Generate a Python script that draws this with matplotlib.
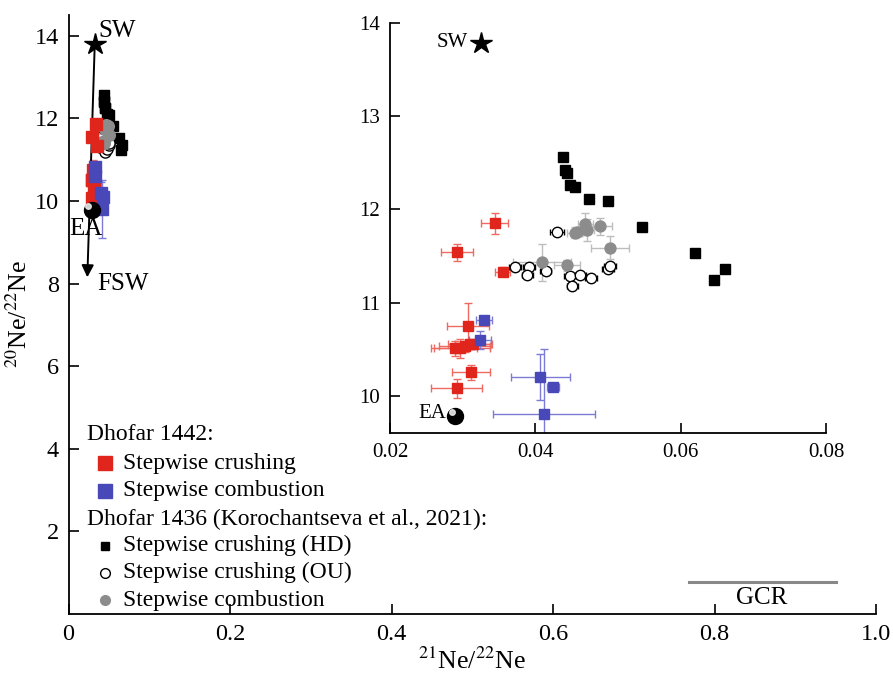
import matplotlib
matplotlib.use("Agg")
import matplotlib.pyplot as plt
import matplotlib.transforms as mtransforms

plt.rcParams['font.family'] = ['Liberation Serif', 'DejaVu Serif']
plt.rcParams['mathtext.fontset'] = 'stix'

# ---------------- data ----------------
# Dhofar 1442, stepwise crushing (red)
red_x = [0.0344, 0.0292, 0.0355, 0.0307, 0.0290, 0.0297, 0.0303, 0.0310, 0.0314, 0.0312, 0.0292]
red_y = [11.85, 11.54, 11.33, 10.75, 10.51, 10.51, 10.53, 10.55, 10.55, 10.25, 10.08]
red_xerr = [0.0019, 0.0022, 0.0010, 0.0029, 0.0030, 0.0040, 0.0035, 0.0030, 0.0025, 0.0026, 0.0035]
red_yerr = [0.11, 0.09, 0.05, 0.24, 0.08, 0.10, 0.06, 0.05, 0.05, 0.08, 0.10]

# Dhofar 1442, stepwise combustion (blue)
blue_x = [0.0329, 0.0324, 0.0407, 0.0424, 0.0412]
blue_y = [10.81, 10.60, 10.20, 10.09, 9.80]
blue_xerr = [0.0011, 0.0015, 0.0041, 0.0008, 0.0070]
blue_yerr = [0.04, 0.10, 0.25, 0.04, 0.70]

# Dhofar 1436, stepwise crushing (HD) (black squares)
hd_x = [0.0438, 0.0441, 0.0444, 0.0448, 0.0454, 0.0474, 0.0500, 0.0547, 0.0620, 0.0661, 0.0646]
hd_y = [12.56, 12.42, 12.39, 12.26, 12.24, 12.11, 12.09, 11.81, 11.53, 11.36, 11.24]

# Dhofar 1436, stepwise crushing (OU) (open circles)
ou_x = [0.0430, 0.0372, 0.0391, 0.0389, 0.0414, 0.0448, 0.0462, 0.0451, 0.0477, 0.0500, 0.0503]
ou_y = [11.76, 11.38, 11.38, 11.30, 11.34, 11.28, 11.30, 11.18, 11.26, 11.36, 11.39]
ou_xerr = [0.0010, 0.0008, 0.0008, 0.0008, 0.0008, 0.0008, 0.0008, 0.0008, 0.0008, 0.0008, 0.0008]
ou_yerr = [0.03, 0.03, 0.03, 0.03, 0.03, 0.03, 0.03, 0.04, 0.03, 0.03, 0.03]

# Dhofar 1436, stepwise combustion (grey circles)
grey_x = [0.0469, 0.0489, 0.0454, 0.0458, 0.0471, 0.0503, 0.0409, 0.0444]
grey_y = [11.84, 11.82, 11.75, 11.76, 11.78, 11.59, 11.43, 11.40]
grey_xerr = [0.0010, 0.0016, 0.0010, 0.0008, 0.0010, 0.0026, 0.0040, 0.0018]
grey_yerr = [0.12, 0.09, 0.06, 0.05, 0.12, 0.12, 0.20, 0.06]

# reference components
sw_x, sw_y = 0.0325, 13.79
ea_x, ea_y = 0.0290, 9.785
fsw_x, fsw_y = 0.0233, 8.15
gcr_x = [0.768, 0.950]
gcr_y = 0.77

main_xticks = [0, 0.2, 0.4, 0.6, 0.8, 1.0]
main_xticklabels = ["0", "0.2", "0.4", "0.6", "0.8", "1.0"]
main_yticks = [2, 4, 6, 8, 10, 12, 14]
ins_xticks = [0.02, 0.04, 0.06, 0.08]
ins_yticks = [10, 11, 12, 13, 14]

RED = "#e0251c"
RED_E = "#ee6a60"
BLUE = "#4848b8"
BLUE_E = "#7c7cd6"
GREY = "#8c8c8c"
GREY_E = "#bdbdbd"

W, H = 893, 675
fig = plt.figure(figsize=(W / 100, H / 100), dpi=100)

def frac(l, r, t, b):
    return [l / W, 1 - b / H, (r - l) / W, (b - t) / H]

ax = fig.add_axes(frac(68.5, 876, 15, 614))
ins = fig.add_axes(frac(390, 826, 23, 433))


def draw_data(a, ms):
    lw = 1.0
    a.errorbar(red_x, red_y, xerr=red_xerr, yerr=red_yerr, fmt='none', ecolor=RED_E,
               elinewidth=lw, capsize=3, zorder=2)
    a.errorbar(blue_x, blue_y, xerr=blue_xerr, yerr=blue_yerr, fmt='none', ecolor=BLUE_E,
               elinewidth=lw, capsize=3, zorder=2)
    a.errorbar(grey_x, grey_y, xerr=grey_xerr, yerr=grey_yerr, fmt='none', ecolor=GREY_E,
               elinewidth=lw, capsize=3, zorder=2)
    a.errorbar(ou_x, ou_y, xerr=ou_xerr, yerr=ou_yerr, fmt='none', ecolor='black',
               elinewidth=0.8, capsize=2, zorder=2)
    a.plot(hd_x, hd_y, 's', color='black', ms=ms * 0.9, zorder=4)
    a.plot(ou_x, ou_y, 'o', mfc='white', mec='black', mew=1.0, ms=ms, zorder=4)
    a.plot(grey_x, grey_y, 'o', color=GREY, ms=ms * 1.05, zorder=4)
    a.plot(red_x, red_y, 's', color=RED, ms=ms, zorder=5)
    a.plot(blue_x, blue_y, 's', color=BLUE, ms=ms, zorder=5)
    # EA ball with highlight
    a.plot([ea_x], [ea_y], 'o', color='black', ms=11.5, zorder=6)
    off = mtransforms.ScaledTranslation(-2.5 / 72, 2.5 / 72, fig.dpi_scale_trans)
    a.plot([ea_x], [ea_y], 'o', color='#e8e8e8', ms=4, zorder=7,
           transform=a.transData + off, alpha=0.9)
    # SW star
    a.plot([sw_x], [sw_y], '*', color='black', ms=16, zorder=6)


# ---------- main axes ----------
draw_data(ax, 8)
ax.annotate("", xy=(fsw_x, fsw_y), xytext=(sw_x, sw_y),
            arrowprops=dict(arrowstyle='-|>', color='black', lw=1.4,
                            mutation_scale=18, shrinkA=0, shrinkB=0), zorder=3)
ax.text(sw_x + 0.004, sw_y + 0.05, "SW", fontsize=18, ha='left', va='bottom')
ax.text(ea_x - 0.007, ea_y - 0.2, "EA", fontsize=18, ha='center', va='top')
ax.text(fsw_x + 0.012, fsw_y - 0.15, "FSW", fontsize=18, ha='left', va='center')
ax.plot(gcr_x, [gcr_y, gcr_y], color='#888888', lw=2.2)
ax.text(sum(gcr_x) / 2 + 0.0, gcr_y - 0.12, "GCR", fontsize=18, ha='center', va='top')

ax.set_xlim(0, 1.0)
ax.set_ylim(0, 14.5)
ax.set_xticks(main_xticks)
ax.set_xticklabels(main_xticklabels)
ax.set_yticks(main_yticks)
ax.tick_params(direction='in', length=7, width=1.2, labelsize=17.5, pad=7)
for s in ['top', 'right']:
    ax.spines[s].set_visible(False)
for s in ['left', 'bottom']:
    ax.spines[s].set_linewidth(1.3)
ax.set_xlabel("$^{21}$Ne/$^{22}$Ne", fontsize=18.5, labelpad=2)
ax.set_ylabel("$^{20}$Ne/$^{22}$Ne", fontsize=18.5, labelpad=2)

# ---------- legend (manual) ----------
tx = ax.transAxes
hdr_x, mk_x, lab_x = 0.023, 0.045, 0.0675
rows = [0.299, 0.252, 0.206, 0.158, 0.114, 0.069, 0.023]
ax.text(hdr_x, rows[0], "Dhofar 1442:", transform=tx, fontsize=17, va='center')
ax.plot([mk_x], [rows[1]], 's', color=RED, ms=10.5, transform=tx, clip_on=False)
ax.text(lab_x, rows[1], "Stepwise crushing", transform=tx, fontsize=17, va='center')
ax.plot([mk_x], [rows[2]], 's', color=BLUE, ms=10.5, transform=tx, clip_on=False)
ax.text(lab_x, rows[2], "Stepwise combustion", transform=tx, fontsize=17, va='center')
ax.text(hdr_x, rows[3], "Dhofar 1436 (Korochantseva et al., 2021):", transform=tx,
        fontsize=17, va='center')
ax.plot([mk_x], [rows[4]], 's', color='black', ms=6, transform=tx, clip_on=False)
ax.text(lab_x, rows[4], "Stepwise crushing (HD)", transform=tx, fontsize=17, va='center')
ax.plot([mk_x], [rows[5]], 'o', mfc='white', mec='black', ms=7, transform=tx, clip_on=False)
ax.text(lab_x, rows[5], "Stepwise crushing (OU)", transform=tx, fontsize=17, va='center')
ax.plot([mk_x], [rows[6]], 'o', color=GREY, ms=7, transform=tx, clip_on=False)
ax.text(lab_x, rows[6], "Stepwise combustion", transform=tx, fontsize=17, va='center')

# ---------- inset ----------
draw_data(ins, 7.5)
ins.text(sw_x - 0.0018, sw_y, "SW", fontsize=15, ha='right', va='center')
ins.text(ea_x - 0.0012, ea_y + 0.02, "EA", fontsize=15, ha='right', va='center')
ins.set_xlim(0.02, 0.08)
ins.set_ylim(9.6, 14.0)
ins.set_xticks(ins_xticks)
ins.set_xticklabels(["0.02", "0.04", "0.06", "0.08"])
ins.set_yticks(ins_yticks)
ins.tick_params(direction='in', length=7, width=1.2, labelsize=15, pad=7)
for s in ['top', 'right']:
    ins.spines[s].set_visible(False)
for s in ['left', 'bottom']:
    ins.spines[s].set_linewidth(1.3)
ins.patch.set_alpha(0)

fig.savefig("out.png", dpi=100)
